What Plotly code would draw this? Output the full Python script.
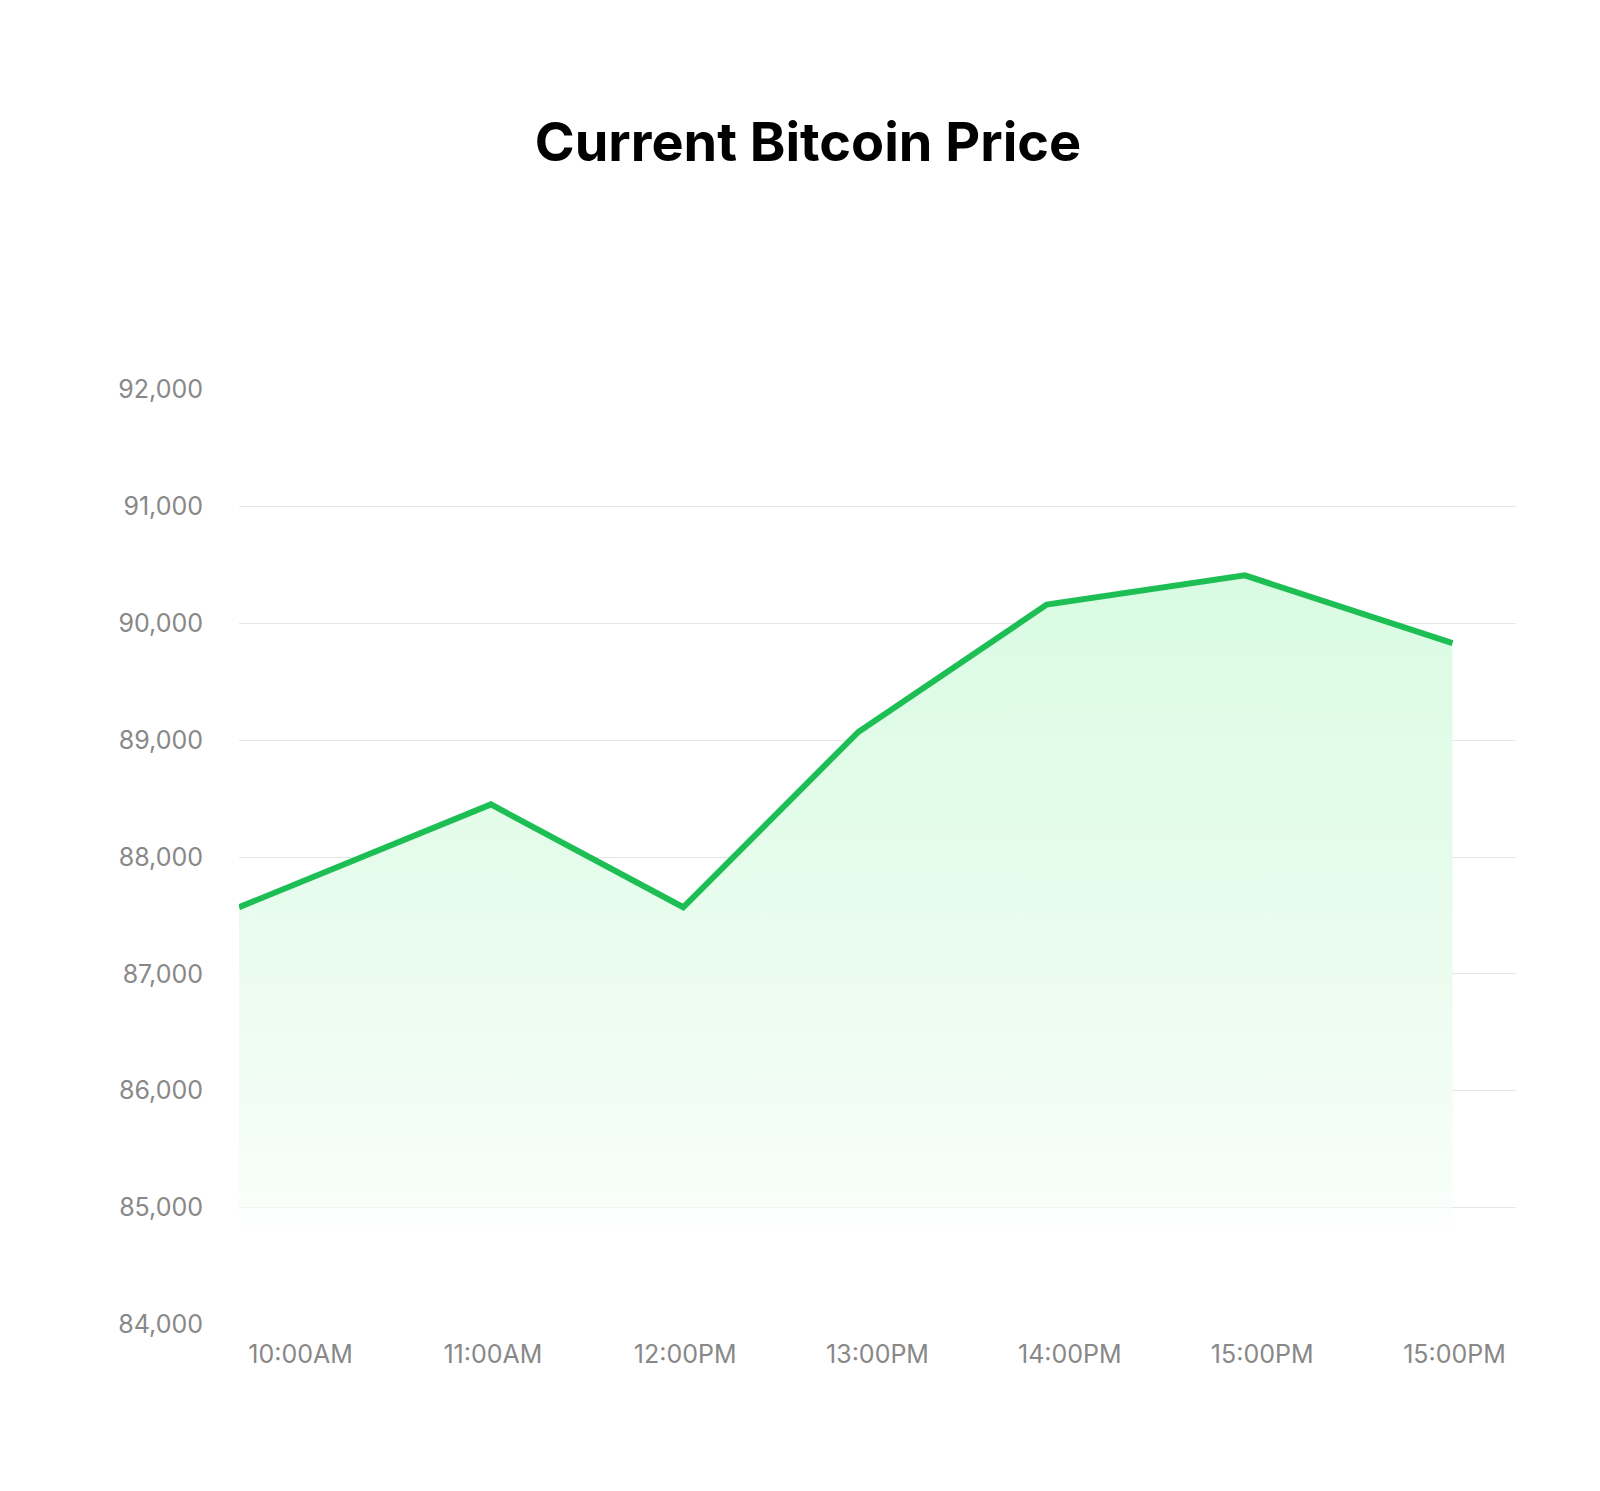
import plotly.graph_objects as go

tick_labels = ["10:00AM", "11:00AM", "12:00PM", "13:00PM", "14:00PM", "15:00PM", "15:00PM"]
point_x = [-0.32, 0.99, 1.99, 2.90, 3.88, 4.91, 5.99]
prices = [87570, 88450, 87570, 89070, 90160, 90410, 89830]
y_ticks = [84000, 85000, 86000, 87000, 88000, 89000, 90000, 91000, 92000]

fig = go.Figure()
fig.add_trace(go.Scatter(
    x=point_x, y=prices, mode="lines",
    line=dict(color="#1DBF55", width=6),
    fill="tozeroy",
    fillgradient=dict(type="vertical", start=84600, stop=90500,
                      colorscale=[[0, "rgba(255,255,255,0)"], [0.1, "rgba(246,254,248,1)"],
                                  [0.5, "rgba(232,252,237,1)"], [1, "rgba(217,251,226,1)"]]),
    hoverinfo="skip", showlegend=False))

fig.update_layout(
    width=1600, height=1491, plot_bgcolor="white", paper_bgcolor="white",
    margin=dict(l=231, r=92, t=381, b=174),
    title=dict(text="<b>Current Bitcoin Price</b>", x=0.5, xanchor="center", y=0.91, yanchor="middle",
               font=dict(family="Inter, Roboto, sans-serif", size=54, color="#000")),
    font=dict(family="Inter, Roboto, sans-serif", size=25, color="#888"),
    xaxis=dict(range=[-0.32, 6.32], tickvals=list(range(7)), ticktext=tick_labels,
               showgrid=False, zeroline=False, showline=False, ticks="", ticklabelstandoff=12,
               tickfont=dict(size=25, color="#888")),
    yaxis=dict(range=[83995, 92005], tickvals=y_ticks, tickformat=",", showgrid=True,
               gridcolor="#e6e6e6", gridwidth=1, zeroline=False, showline=False, ticks="",
               ticklabelstandoff=35, tickfont=dict(size=25, color="#888")),
)
fig.write_html("out.html")
